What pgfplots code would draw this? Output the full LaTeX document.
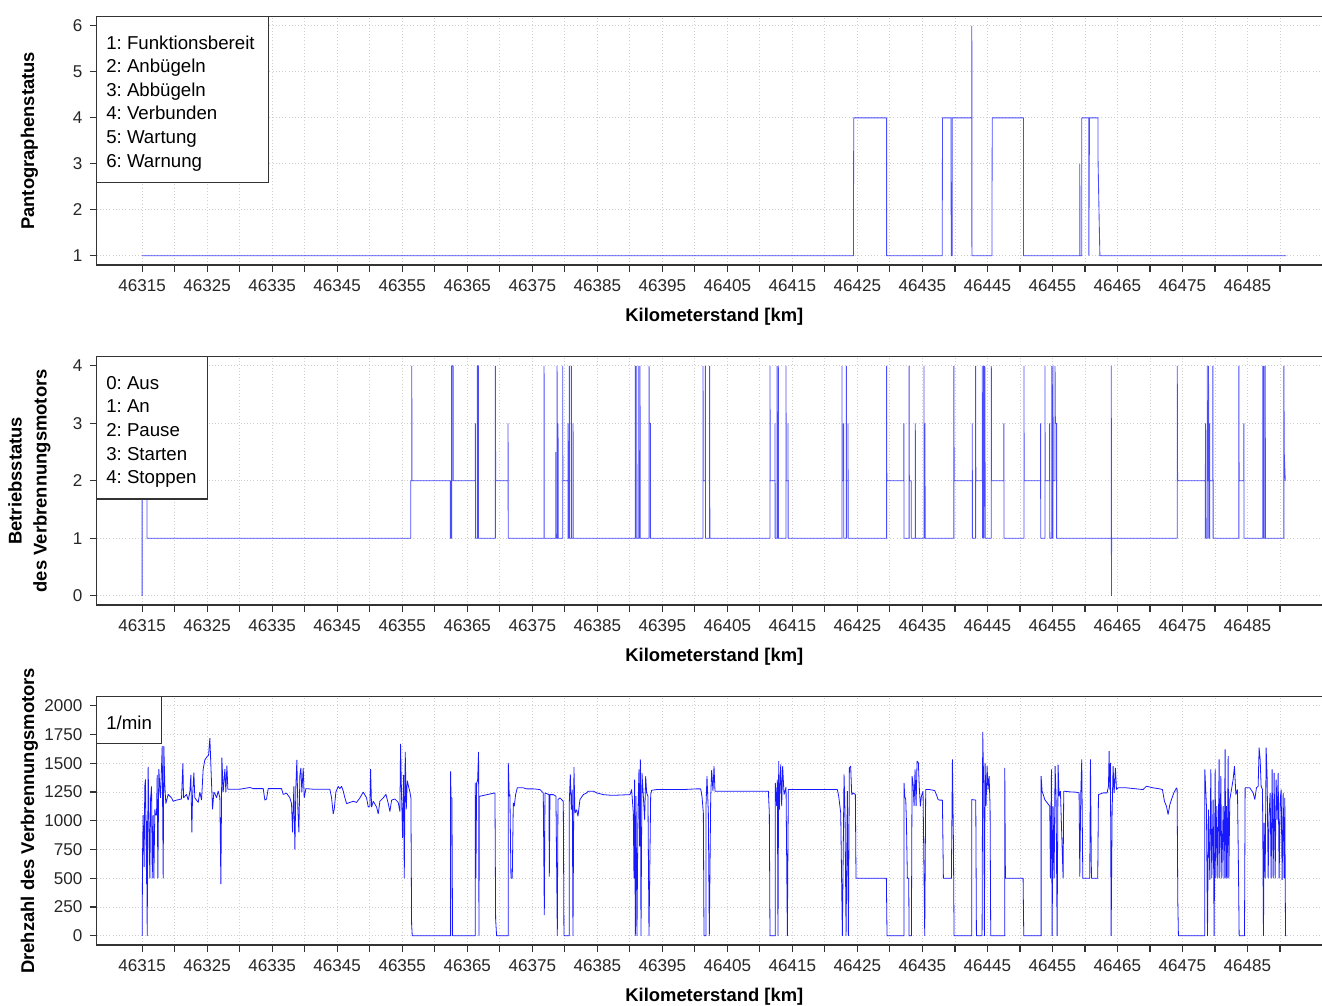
\documentclass[border=0pt]{standalone}
\usepackage{fontspec}
\setmainfont{Liberation Sans}
\usepackage{pgfplots}
\pgfplotsset{compat=1.18}

\definecolor{axgray}{HTML}{333333}
\definecolor{gridgray}{HTML}{CFCFCF}

\pgfplotsset{
  kmaxis/.style={
    scale only axis,
    width=926.5pt, height=186.2pt,
    xmin=46308, xmax=46498,
    xtick={46315,46325,...,46485},
    minor xtick={46320,46330,...,46490},
    scaled x ticks=false, scaled y ticks=false,
    /pgf/number format/1000 sep={},
    /pgf/number format/assume math mode=true,
    tick align=outside, tick pos=left,
    major tick length=5.25pt, minor tick length=5.25pt,
    every tick/.style={axgray, line width=0.9pt},
    minor tick style={axgray, line width=0.9pt},
    axis line style={axgray, line width=1.1pt},
    grid=both,
    major grid style={gridgray, dotted, line width=0.6pt},
    minor grid style={gridgray, dotted, line width=0.6pt},
    tick label style={font=\fontsize{12.8}{15}\selectfont, text=black!85},
    xticklabel style={yshift=-2pt},
    yticklabel style={xshift=-2pt},
    xlabel={Kilometerstand [km]},
    xlabel style={font=\fontsize{13.8}{16}\selectfont\bfseries,
      at={(axis description cs:0.5,0)}, anchor=center, yshift=-39pt},
    ylabel style={font=\fontsize{13.8}{18.75}\selectfont\bfseries, align=center,
      at={(axis description cs:-0.0545,0.5)}, anchor=center},
    clip mode=individual,
  },
}
\tikzset{
  legtext/.style={anchor=north west, align=left, inner sep=0pt,
    font=\fontsize{14}{17.7}\selectfont},
}

\begin{document}
\frenchspacing
\begin{tikzpicture}
\path[use as bounding box] (0,0) rectangle (991.5pt,754.5pt);

% Pantographenstatus
\begin{axis}[kmaxis, at={(72.5pt,741.98pt)}, anchor=north west,
  ymin=0.8, ymax=6.2, ytick={1,...,6},
  ylabel={Pantographenstatus}]
\addplot[blue, opacity=0.7, line width=0.65pt, line join=bevel] coordinates {
(46315,1)(46424.4,1)(46424.4,2)(46424.45,4)(46429.5,4)(46429.5,1)
(46438.06,1)(46438.06,2)(46438.1,4)(46439.4,4)(46439.4,3)(46439.45,1)(46439.6,1)(46439.6,4)
(46442.6,4)(46442.6,6)(46442.62,1)(46445.7,1)(46445.7,2)(46445.75,4)(46450.55,4)(46450.55,1)
(46459.2,1)(46459.2,3)(46459.25,1)(46459.5,1)(46459.5,4)(46460.6,4)(46460.6,1)(46460.7,4)
(46462.0,4)(46462.0,3.2)(46462.2,1.7)(46462.3,1)(46490.95,1)
};
\draw[axgray, line width=0.9pt, fill=white] (rel axis cs:0,1) rectangle ++(128.7pt,-124.2pt);
\node[legtext] at ([xshift=7pt,yshift=-14pt]rel axis cs:0,1)
  {1: Funktionsbereit\\2: Anbügeln\\3: Abbügeln\\4: Verbunden\\5: Wartung\\6: Warnung};
\end{axis}

% Betriebsstatus
\begin{axis}[kmaxis, at={(72.5pt,486.98pt)}, anchor=north west,
  ymin=-0.16, ymax=4.16, ytick={0,...,4},
  ylabel={Betriebsstatus\\des Verbrennungsmotors}]
\addplot[blue, opacity=0.7, line width=0.65pt, line join=bevel] coordinates {
(46315,0)(46315,4)(46315.75,4)(46315.75,1)
(46356.31,1)(46356.31,2)(46356.46,2)(46356.46,4)(46356.5,2)
(46362.41,2)(46362.41,1)(46362.6,1)(46362.6,4)(46362.82,4)(46362.82,2)
(46366.25,2)(46366.25,3)(46366.27,1)(46366.56,1)(46366.56,4)(46366.72,4)(46366.72,1)
(46369.33,1)(46369.33,4)(46369.36,2)(46371.27,2)(46371.27,3)(46371.3,1)
(46376.81,1)(46376.81,4)(46376.85,1)
(46378.6,1)(46378.6,2.5)(46378.62,1)(46378.81,1)(46378.81,4)(46378.85,1)(46378.96,1)(46378.96,3)(46379,1)
(46379.68,1)(46379.68,4)(46379.7,2)(46380.5,2)(46380.5,3)(46380.52,1)(46380.7,1)(46380.7,4)(46380.72,1)
(46381.01,1)(46381.01,4)(46381.03,1)(46381.27,1)(46381.27,3)(46381.3,1)
(46390.85,1)(46390.85,4)(46390.88,1)(46391.06,1)(46391.06,4)(46391.09,1)(46391.37,1)(46391.37,4)(46391.4,1)
(46391.57,1)(46391.57,4)(46391.6,1)
(46392.96,1)(46392.96,4)(46393,3)(46393.16,3)(46393.16,1)
(46401.26,1)(46401.26,4)(46401.29,2)(46401.62,2)(46401.62,4)(46401.65,1)(46402.28,1)(46402.28,4)(46402.31,1)
(46411.56,1)(46411.56,4)(46411.59,2)(46412.33,2)(46412.33,3)(46412.35,1)(46412.64,1)(46412.64,4)(46412.67,1)
(46412.84,1)(46412.84,4)(46412.87,1)
(46414.02,1)(46414.02,4)(46414.05,2)(46414.33,2)(46414.33,3)(46414.35,1)
(46422.63,1)(46422.63,4)(46422.66,2)(46422.89,2)(46422.89,3)(46422.91,1)(46423.3,1)(46423.3,4)(46423.33,2)
(46423.56,2)(46423.56,3)(46423.58,1)
(46429.5,1)(46429.5,4)(46429.53,2)(46432.16,2)(46432.16,3)(46432.18,1)(46432.96,1)(46432.96,4)(46432.99,2)
(46433.29,2)(46433.29,1)(46433.91,1)(46433.91,3)(46433.93,1)(46435.24,1)(46435.24,4)(46435.27,2)(46435.4,2)
(46435.4,3)(46435.42,1)
(46439.85,1)(46439.85,4)(46439.88,2)(46442.67,2)(46442.67,3)(46442.69,1)(46443.19,1)(46443.19,4)(46443.22,2)
(46444.21,2)(46444.21,4)(46444.25,1)(46444.3,3)(46444.35,1)(46444.42,4)(46444.45,1)(46444.5,4)(46444.55,2.5)
(46444.6,4)(46444.67,1)
(46445.6,1)(46445.6,4)(46445.63,2)(46447.54,2)(46447.54,3)(46447.56,1)
(46450.62,1)(46450.62,4)(46450.65,2)(46453.18,2)(46453.18,3)(46453.2,1)(46453.85,1)(46453.85,4)(46453.88,2)
(46454.56,2)(46454.56,3)(46454.6,1)(46454.9,1)(46454.9,4)(46454.95,1)(46455.08,1)(46455.08,4)(46455.12,2)
(46455.4,2)(46455.4,4)(46455.45,3)(46455.64,3)(46455.64,1)
(46464.05,1)(46464.05,4)(46464.08,0)(46464.1,1)
(46474.2,1)(46474.2,4)(46474.25,2)(46478.5,2)(46478.5,1)(46478.55,3)(46478.6,1)(46478.81,1)(46478.81,4)
(46478.85,2)(46479.01,2)(46479.01,4)(46479.05,1)(46479.17,1)(46479.17,3)(46479.2,2)(46479.68,2)(46479.68,4)
(46479.72,1)
(46483.68,1)(46483.68,4)(46483.71,2)(46484.45,2)(46484.45,3)(46484.47,1)
(46487.37,1)(46487.37,4)(46487.4,1)(46487.52,1)(46487.52,4)(46487.55,1)(46487.73,1)(46487.73,4)(46487.76,1)
(46490.6,1)(46490.6,4)(46490.65,2.5)(46490.81,2)
};
\draw[axgray, line width=0.9pt, fill=white] (rel axis cs:0,1) rectangle ++(83pt,-106.7pt);
\node[legtext] at ([xshift=7pt,yshift=-14.5pt]rel axis cs:0,1)
  {0: Aus\\1: An\\2: Pause\\3: Starten\\4: Stoppen};
\end{axis}

% Drehzahl
\begin{axis}[kmaxis, at={(72.5pt,231.98pt)}, anchor=north west,
  ymin=-80, ymax=2080, ytick={0,250,...,2000},
  ylabel={Drehzahl des Verbrennungsmotors}]
\addplot[blue, opacity=0.9, line width=0.6pt, line join=bevel] coordinates {
(46315.00,0)(46315.05,680)(46315.15,1050)(46315.3,600)(46315.4,1300)(46315.51,1360)(46315.67,450)(46315.72,1000)
(46315.77,0)(46315.85,800)(46315.92,1470)(46316.18,500)(46316.3,1200)(46316.44,1300)(46316.55,500)(46316.69,1050)
(46316.8,500)(46316.95,1100)(46317.05,1050)(46317.21,1050)(46317.31,1400)(46317.41,500)(46317.56,1450)(46317.82,1200)
(46318.08,1650)(46318.23,500)(46318.33,1650)(46318.49,1300)(46318.64,1150)(46319.00,1230)(46319.51,1200)(46319.77,1170)
(46320.28,1180)(46321.05,1190)(46321.26,1500)(46321.36,1200)(46321.82,1230)(46322.08,1180)(46322.33,1250)(46322.49,1400)
(46322.64,900)(46322.74,1200)(46322.95,1420)(46323.10,1200)(46323.36,1180)(46323.62,1160)(46323.87,1250)(46324.13,1180)
(46324.38,1450)(46324.64,1530)(46325.00,1560)(46325.21,1570)(46325.41,1720)(46325.62,1400)(46325.82,1100)(46326.03,1250)
(46326.23,1230)(46326.44,1200)(46326.69,1260)(46326.95,1200)(46327.10,450)(46327.26,1550)(46327.46,1250)(46327.72,1450)
(46327.87,1250)(46328.03,1480)(46328.18,1275)(46329.00,1275)(46330.03,1275)(46331.05,1285)(46331.56,1290)(46332.08,1280)
(46333.62,1280)(46333.87,1180)(46334.13,1190)(46334.38,1280)(46335.67,1280)(46336.44,1280)(46336.69,1230)(46337.21,1240)
(46337.72,1200)(46337.97,1150)(46338.13,900)(46338.33,1300)(46338.49,750)(46338.64,1300)(46338.79,1530)(46338.95,1100)
(46339.10,900)(46339.26,1400)(46339.41,1460)(46339.56,1250)(46339.77,1460)(46339.92,1200)(46340.18,1280)(46341.31,1275)
(46342.33,1275)(46343.87,1275)(46344.13,1200)(46344.38,1060)(46344.54,1100)(46344.79,1250)(46345.15,1300)(46345.41,1280)
(46345.67,1300)(46345.92,1260)(46346.18,1200)(46346.44,1150)(46346.95,1160)(46347.46,1170)(46347.97,1160)(46348.49,1200)
(46349.00,1250)(46349.51,1200)(46349.77,1120)(46350.03,1130)(46350.13,1450)(46350.28,1120)(46350.54,1170)(46351.05,1120)
(46351.31,1060)(46351.56,1170)(46352.08,1200)(46352.49,1230)(46352.85,1150)(46353.10,1080)(46353.36,1180)(46353.87,1190)
(46354.38,1160)(46354.64,1080)(46354.74,1670)(46354.90,1200)(46355.05,850)(46355.21,1400)(46355.31,500)(46355.46,1600)
(46355.62,1100)(46355.77,1350)(46355.97,1300)(46356.18,1250)(46356.33,1200)(46356.44,100)(46356.54,0)
(46362.44,0)(46362.44,1430)(46362.5,1200)(46362.64,1200)(46362.74,0)
(46366.23,0)(46366.23,1330)(46366.33,500)(46366.44,1330)(46366.59,1350)(46366.74,1600)(46366.80,0)(46366.85,1214)
(46366.95,1214)(46369.26,1243)(46369.36,150)(46369.51,0)
(46371.31,0)(46371.31,1505)(46371.46,1214)(46371.56,1230)(46371.72,500)(46371.92,500)(46372.08,1156)(46372.23,1127)
(46372.44,1230)(46372.69,1287)(46373.62,1287)(46374.13,1278)(46375.15,1278)(46376.18,1272)(46376.69,1243)(46376.85,180)
(46376.95,1243)(46377.56,1228)(46377.62,515)(46377.72,1228)(46378.23,1228)(46378.64,1214)(46378.85,0)(46378.95,1185)
(46379.26,1200)(46379.51,1185)(46379.77,1170)(46379.87,0)
(46380.69,0)(46380.69,1156)(46380.85,1403)(46381.00,1097)(46381.15,1272)(46381.26,0)(46381.41,1467)(46381.56,1068)
(46381.82,1097)(46382.03,1039)(46382.33,1185)(46382.85,1228)(46383.36,1243)(46383.62,1258)(46384.38,1258)(46384.90,1243)
(46385.92,1228)(46386.95,1223)(46387.97,1223)(46390.03,1228)(46390.28,1272)(46390.54,1068)(46390.64,500)(46390.74,1359)
(46390.85,0)(46390.95,1214)(46391.10,0)(46391.26,1097)(46391.41,1447)(46391.51,777)(46391.62,1534)(46391.72,0)
(46391.87,1418)(46392.08,1214)(46392.28,1010)(46392.44,1388)(46392.59,1243)(46392.79,1214)(46392.95,0)(46393.21,1228)
(46393.36,1266)(46394.13,1272)(46395.15,1272)(46396.18,1272)(46398.23,1272)(46400.28,1278)(46400.90,1278)(46401.10,1214)
(46401.31,1068)(46401.41,0)
(46401.72,0)(46401.72,1127)(46401.87,1389)(46402.08,1068)(46402.23,0)(46402.44,1200)(46402.59,1441)(46402.79,1258)
(46402.95,1476)(46403.10,1258)(46403.87,1258)(46405.41,1258)(46407.97,1258)(46410.54,1258)(46411.31,1258)(46411.46,1068)
(46411.56,0)
(46412.38,0)(46412.38,1330)(46412.59,1127)(46412.69,1359)(46412.79,0)(46412.90,1520)(46413.00,1097)(46413.21,1490)
(46413.36,1127)(46413.51,1476)(46413.72,1228)(46414.03,1293)(46414.23,0)(46414.38,1272)(46415.67,1272)(46418.23,1272)
(46420.79,1272)(46421.92,1272)(46422.13,1214)(46422.44,1068)(46422.69,0)(46422.95,1403)(46423.10,1068)(46423.26,0)
(46423.46,1258)(46423.62,0)(46423.77,1461)(46423.97,1476)(46424.13,1228)(46424.38,1243)(46424.69,1228)(46424.79,500)
(46425.41,500)(46428.49,500)(46429.46,500)(46429.56,0)
(46432.18,0)(46432.18,1330)(46432.28,1214)(46432.44,1185)(46432.54,1010)(46432.69,500)(46432.90,500)(46432.95,0)
(46433.31,0)(46433.41,1389)(46433.56,1330)(46433.72,1127)(46433.87,1447)(46434.03,1127)(46434.18,1520)(46434.38,1505)
(46434.54,1272)(46434.69,1127)(46434.85,1214)(46435.10,1258)(46435.36,0)(46435.51,1272)(46436.13,1272)(46436.90,1263)
(46437.15,1228)(46437.41,1185)(46437.67,1180)(46438.08,1180)(46438.23,500)(46439.46,500)(46439.62,1534)(46439.77,835)
(46439.87,0)
(46442.59,0)(46442.59,1185)(46443.21,1180)(46443.31,0)(46444.18,0)(46444.28,1773)(46444.44,1272)(46444.54,0)
(46444.64,1505)(46444.79,1127)(46444.95,1476)(46445.10,1272)(46445.26,1389)(46445.41,1127)(46445.51,0)
(46447.67,0)(46447.67,1461)(46447.77,500)(46450.49,500)(46450.59,0)
(46453.26,0)(46453.26,1389)(46453.41,1258)(46453.67,1214)(46453.82,1185)(46454.59,1127)(46454.69,500)(46454.85,1447)
(46454.95,0)(46455.10,1127)(46455.26,500)(46455.41,1476)(46455.56,1214)(46455.72,0)(46455.87,1488)(46456.03,1214)
(46456.23,1258)(46456.64,500)(46456.74,1258)(46457.67,1252)(46458.69,1249)(46459.10,1243)(46459.21,515)(46459.36,1228)
(46459.51,1534)(46459.67,500)(46460.74,500)(46460.85,1534)(46461.00,500)(46461.97,500)(46462.08,1228)(46462.79,1243)
(46463.41,1243)(46463.62,1301)(46463.72,1607)(46463.82,1272)(46463.92,1505)(46464.03,0)(46464.18,1068)(46464.33,1476)
(46464.49,1243)(46464.69,1461)(46464.85,1272)(46465.10,1287)(46466.38,1287)(46467.92,1278)(46468.95,1272)(46469.46,1301)
(46470.49,1287)(46471.51,1278)(46471.92,1272)(46472.23,1170)(46472.54,1127)(46472.79,1054)(46473.05,1140)(46473.31,1185)
(46473.67,1243)(46474.08,1287)(46474.18,1272)(46474.28,311)(46474.38,0)
(46478.44,0)(46478.44,1447)(46478.69,1127)(46478.85,0)(46479.00,1097)(46479.21,486)(46479.36,1447)(46479.51,500)
(46479.72,1185)(46479.87,0)(46480.03,1447)(46480.13,500)(46480.28,1127)(46480.44,500)(46480.64,1534)(46480.74,500)
(46480.90,1389)(46481.05,500)(46481.26,1127)(46481.41,500)(46481.56,1621)(46481.67,500)(46481.77,1127)(46481.87,500)
(46482.03,1563)(46482.13,500)(46482.28,1185)(46482.54,1272)(46482.79,1359)(46483.00,1476)(46483.21,1228)(46483.46,1272)
(46483.62,544)(46483.72,0)(46484.54,0)(46484.64,1287)(46485.36,1287)(46485.87,1243)(46486.13,1185)(46486.38,1287)
(46486.64,1301)(46486.79,1636)(46486.95,1534)(46487.10,1301)(46487.31,1272)(46487.46,0)(46487.56,981)(46487.72,500)
(46487.87,1636)(46488.03,1359)(46488.18,500)(46488.33,1068)(46488.49,1243)(46488.64,500)(46488.79,1447)(46488.95,500)
(46489.10,1418)(46489.26,500)(46489.41,1359)(46489.56,1010)(46489.72,1418)(46489.87,500)(46490.03,1185)(46490.18,1272)
(46490.33,486)(46490.49,1243)(46490.64,500)(46490.74,1199)(46490.85,0)(46491.00,0)
};
\draw[axgray, line width=0.9pt, fill=white] (rel axis cs:0,1) rectangle ++(48.75pt,-35pt);
\node[legtext] at ([xshift=7pt,yshift=-14.2pt]rel axis cs:0,1) {1/min};
\end{axis}
\end{tikzpicture}
\end{document}
